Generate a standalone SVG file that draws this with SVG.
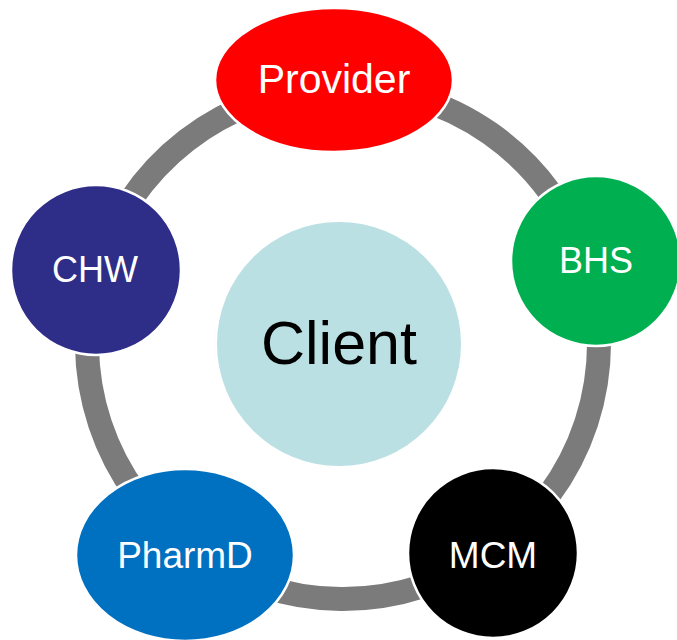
<svg xmlns="http://www.w3.org/2000/svg" width="677" height="640" viewBox="0 0 677 640">
<style>
.arc{fill:none;stroke:#7b7b7b;stroke-width:24}
.node{stroke:#ffffff;stroke-width:2.5}
.lbl{font-family:"Liberation Sans",Arial,sans-serif;fill:#ffffff;text-anchor:middle}
</style>
<rect width="677" height="640" fill="#ffffff"/>
<g id="connectors">
<path class="arc" d="M335.4,87.1 A256,256 0 0 1 586.5,263.9"/>
<path class="arc" d="M586.5,263.9 A256,256 0 0 1 492.4,550.9"/>
<path class="arc" d="M492.4,550.9 A256,256 0 0 1 190,548.3"/>
<path class="arc" d="M190,548.3 A256,256 0 0 1 97.5,270.3"/>
<path class="arc" d="M97.5,270.3 A256,256 0 0 1 335.4,87.1"/>
</g>
<g id="client">
<circle cx="339" cy="344" r="122" fill="#bbe0e3"/>
<text x="339" y="364" font-family="Liberation Sans,Arial,sans-serif" font-size="61" fill="#000000" text-anchor="middle">Client</text>
</g>
<g id="provider">
<ellipse class="node" cx="334" cy="80" rx="119" ry="72" fill="#ff0000"/>
<text class="lbl" x="334" y="93" font-size="41">Provider</text>
</g>
<g id="bhs">
<circle class="node" cx="596" cy="261" r="85" fill="#00b050"/>
<text class="lbl" x="596" y="273" font-size="36">BHS</text>
</g>
<g id="mcm">
<circle class="node" cx="493" cy="553" r="85" fill="#000000"/>
<text class="lbl" x="493" y="568" font-size="37">MCM</text>
</g>
<g id="pharmd">
<ellipse class="node" cx="185" cy="555" rx="109" ry="86" fill="#0070c0"/>
<text class="lbl" x="185" y="568" font-size="37">PharmD</text>
</g>
<g id="chw">
<circle class="node" cx="96" cy="270" r="85" fill="#2e2d88"/>
<text class="lbl" x="95" y="282" font-size="36">CHW</text>
</g>
</svg>
